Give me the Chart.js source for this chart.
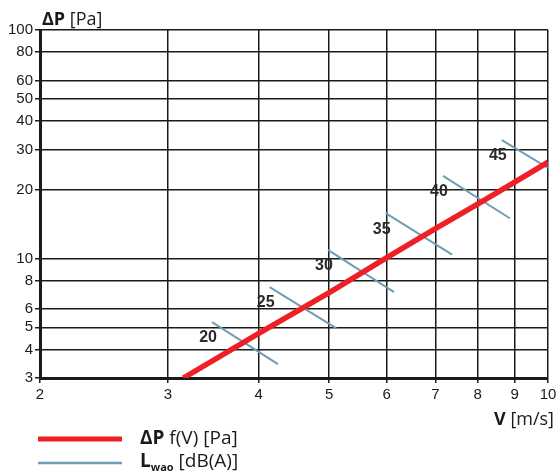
<!DOCTYPE html>
<html>
<head>
<meta charset="utf-8">
<script src="https://cdn.jsdelivr.net/npm/chart.js@4/dist/chart.umd.min.js"></script>
<style>
  html, body { margin: 0; padding: 0; background: #fff; }
  #wrap { width: 556px; height: 473px; }
</style>
</head>
<body>
<div id="wrap"><canvas id="chart" width="556" height="473"></canvas></div>
<script>
// pressure drop curve
const speedV = [3.15, 4, 5, 6, 7, 8, 9, 10];
const pressure = [3, 4.7, 7.1, 10.1, 13.5, 17.3, 21.6, 26.4];

// sound level segments (start / end points)
const lwLevels = ['20', '25', '30', '35', '40', '45'];
const lwStartV = [3.45, 4.14, 4.98, 5.98, 7.17, 8.64];
const lwStartP = [5.27, 7.5, 10.9, 15.8, 23.0, 33.0];
const lwEndV = [4.25, 5.11, 6.14, 7.38, 8.86, 10];
const lwEndP = [3.45, 4.96, 7.13, 10.4, 15.0, 24.9];

const xTicks = [2, 3, 4, 5, 6, 7, 8, 9, 10];
const yTicks = [3, 4, 5, 6, 8, 10, 20, 30, 40, 50, 60, 80, 100];

const RED = '#ee1f26';
const BLUE = '#6f9db4';
const INK = '#1a1a1a';

const datasets = [{
  label: 'dP',
  data: speedV.map((v, i) => ({ x: v, y: pressure[i] })),
  borderColor: RED,
  borderWidth: 5.5,
  pointRadius: 0,
  borderCapStyle: 'butt',
  order: 0
}];
lwLevels.forEach((lv, i) => {
  datasets.push({
    label: 'Lw ' + lv,
    data: [{ x: lwStartV[i], y: lwStartP[i] }, { x: lwEndV[i], y: lwEndP[i] }],
    borderColor: BLUE,
    borderWidth: 2,
    pointRadius: 0,
    order: 1
  });
});

// level numbers next to the blue segments
const levelLabels = {
  id: 'levelLabels',
  afterDatasetsDraw(chart) {
    const { ctx, scales } = chart;
    ctx.save();
    ctx.font = 'bold 16px "Liberation Sans", Arial, sans-serif';
    ctx.fillStyle = '#2a2a2a';
    ctx.textAlign = 'center';
    ctx.textBaseline = 'middle';
    lwLevels.forEach((lv, i) => {
      const px = scales.x.getPixelForValue(lwStartV[i]);
      const py = scales.y.getPixelForValue(lwStartP[i]);
      ctx.fillText(lv, px - 4, py + 16);
    });
    ctx.restore();
  }
};

// axis titles and the custom legend (mixed bold / regular / subscript)
function richText(ctx, x, y, parts) {
  parts.forEach(p => {
    ctx.font = p.font;
    ctx.fillText(p.text, x, y + (p.dy || 0));
    x += ctx.measureText(p.text).width;
  });
  return x;
}

const extras = {
  id: 'extras',
  afterDraw(chart) {
    const ctx = chart.ctx;
    const fam = '"Open Sans", "Liberation Sans", sans-serif';
    ctx.save();
    ctx.fillStyle = INK;
    ctx.textBaseline = 'alphabetic';
    ctx.textAlign = 'left';

    richText(ctx, 42, 25, [
      { text: 'ΔP', font: 'bold 18px ' + fam },
      { text: ' [Pa]', font: '18px ' + fam }
    ]);

    // right aligned x title
    ctx.font = 'bold 18px ' + fam;
    const w1 = ctx.measureText('V').width;
    ctx.font = '18px ' + fam;
    const w2 = ctx.measureText(' [m/s]').width;
    richText(ctx, 554 - w1 - w2, 425, [
      { text: 'V', font: 'bold 18px ' + fam },
      { text: ' [m/s]', font: '18px ' + fam }
    ]);

    // legend lines
    ctx.lineCap = 'butt';
    ctx.strokeStyle = RED;
    ctx.lineWidth = 5;
    ctx.beginPath(); ctx.moveTo(38, 439); ctx.lineTo(122, 439); ctx.stroke();
    ctx.strokeStyle = BLUE;
    ctx.lineWidth = 2.5;
    ctx.beginPath(); ctx.moveTo(38, 463); ctx.lineTo(122, 463); ctx.stroke();

    richText(ctx, 140, 444, [
      { text: 'ΔP', font: 'bold 19px ' + fam },
      { text: ' f(V) [Pa]', font: '19px ' + fam }
    ]);
    richText(ctx, 140, 467, [
      { text: 'L', font: 'bold 19px ' + fam },
      { text: 'wao', font: 'bold 11px ' + fam, dy: 4 },
      { text: ' [dB(A)]', font: '19px ' + fam }
    ]);
    ctx.restore();
  }
};

new Chart(document.getElementById('chart'), {
  type: 'line',
  data: { datasets },
  options: {
    responsive: false,
    animation: false,
    layout: { padding: { top: 30, right: 0, left: 0, bottom: 0 } },
    plugins: { legend: { display: false }, tooltip: { enabled: false } },
    scales: {
      x: {
        type: 'logarithmic',
        min: 2,
        max: 10,
        afterBuildTicks: s => { s.ticks = xTicks.map(v => ({ value: v })); },
        afterFit: s => { s.height = 95; s.paddingRight = 8; s.paddingLeft = 0; },
        ticks: {
          callback: v => String(v),
          color: INK,
          padding: 3,
          maxRotation: 0,
          autoSkip: false,
          font: { family: '"Liberation Sans", Arial, sans-serif', size: 15 }
        },
        grid: { color: INK, lineWidth: 1.5, tickLength: 5 },
        border: { color: INK, width: 3 }
      },
      y: {
        type: 'logarithmic',
        min: 3,
        max: 100,
        afterBuildTicks: s => { s.ticks = yTicks.map(v => ({ value: v })); },
        afterFit: s => { s.width = 40; s.paddingTop = 0; s.paddingBottom = 0; },
        ticks: {
          callback: v => String(v),
          color: INK,
          padding: 2,
          autoSkip: false,
          font: { family: '"Liberation Sans", Arial, sans-serif', size: 15 }
        },
        grid: { color: INK, lineWidth: 1.5, tickLength: 5 },
        border: { color: INK, width: 3 }
      }
    }
  },
  plugins: [levelLabels, extras]
});
</script>
</body>
</html>
